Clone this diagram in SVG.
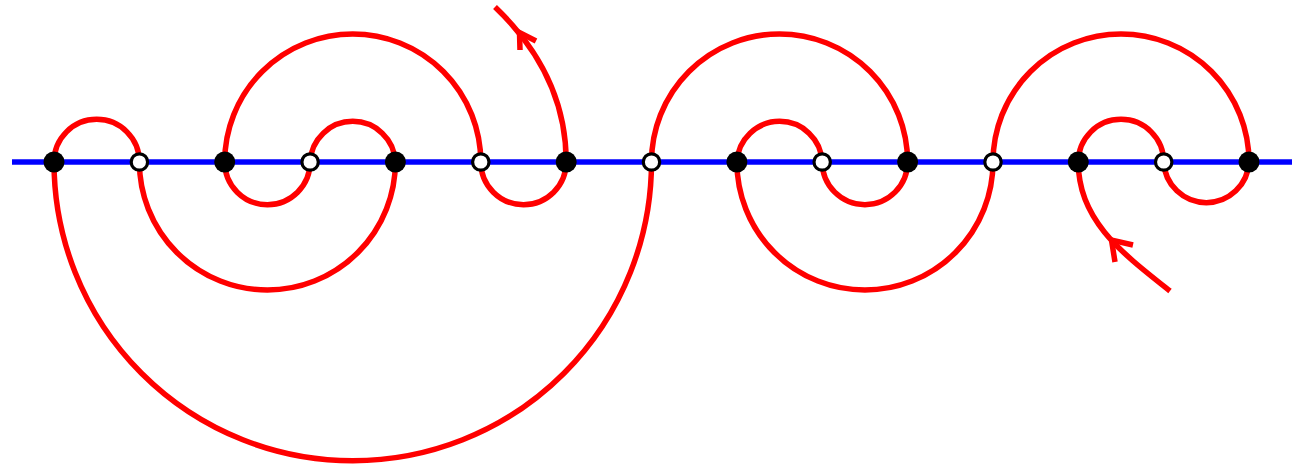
<svg xmlns="http://www.w3.org/2000/svg" width="1303" height="469" viewBox="0 0 1303 469">
<style>
.axis{stroke:#0000ff;stroke-width:5.5;fill:none}
.arc{stroke:#ff0000;stroke-width:5.5;fill:none}
.head{stroke:#ff0000;stroke-width:5.5;fill:none;stroke-linejoin:miter}
.full{fill:#000}
.open{fill:#fff;stroke:#000;stroke-width:3.2}
</style>
<rect width="1303" height="469" fill="#fff"/>
<g id="line"><path class="axis" d="M12,162 H1292"/></g>
<g id="connectors">
<path class="arc" d="M54,162 A42.7,42.7 0 0 1 139.4,162"/>
<path class="arc" d="M310.1,162 A42.7,42.7 0 0 1 395.4,162"/>
<path class="arc" d="M736.9,162 A42.7,42.7 0 0 1 822.2,162"/>
<path class="arc" d="M1078.3,162 A42.7,42.7 0 0 1 1163.7,162"/>
<path class="arc" d="M224.7,162 A128,128 0 0 1 480.8,162"/>
<path class="arc" d="M651.5,162 A128,128 0 0 1 907.6,162"/>
<path class="arc" d="M993,162 A128,128 0 0 1 1249,162"/>
<path class="arc" d="M224.7,162 A42.7,42.7 0 0 0 310.1,162"/>
<path class="arc" d="M480.8,162 A42.7,42.7 0 0 0 566.2,162"/>
<path class="arc" d="M822.2,162 A42.7,42.7 0 0 0 907.6,162"/>
<path class="arc" d="M1163.7,162 A42.7,42.7 0 0 0 1249,162"/>
<path class="arc" d="M139.4,162 A128,128 0 0 0 395.4,162"/>
<path class="arc" d="M736.9,162 A128,128 0 0 0 993,162"/>
<path class="arc" d="M54,162 A298.75,298.75 0 0 0 651.5,162"/>
<path class="arc" d="M566.2,162 C566.2,100 540,50 495,7"/>
<path class="arc" d="M1170,291 C1122,253 1078,220 1078.3,162"/>
<path class="head" d="M520,50 L519.5,32.5 L536,41"/>
<path class="head" d="M1115,262 L1111.5,240 L1133,245"/>
</g>
<g id="n0"><circle class="full" cx="54" cy="162" r="10.5"/></g>
<g id="n1"><circle class="open" cx="139.4" cy="162" r="8.2"/></g>
<g id="n2"><circle class="full" cx="224.7" cy="162" r="10.5"/></g>
<g id="n3"><circle class="open" cx="310.1" cy="162" r="8.2"/></g>
<g id="n4"><circle class="full" cx="395.4" cy="162" r="10.5"/></g>
<g id="n5"><circle class="open" cx="480.8" cy="162" r="8.2"/></g>
<g id="n6"><circle class="full" cx="566.2" cy="162" r="10.5"/></g>
<g id="n7"><circle class="open" cx="651.5" cy="162" r="8.2"/></g>
<g id="n8"><circle class="full" cx="736.9" cy="162" r="10.5"/></g>
<g id="n9"><circle class="open" cx="822.2" cy="162" r="8.2"/></g>
<g id="n10"><circle class="full" cx="907.6" cy="162" r="10.5"/></g>
<g id="n11"><circle class="open" cx="993" cy="162" r="8.2"/></g>
<g id="n12"><circle class="full" cx="1078.3" cy="162" r="10.5"/></g>
<g id="n13"><circle class="open" cx="1163.7" cy="162" r="8.2"/></g>
<g id="n14"><circle class="full" cx="1249" cy="162" r="10.5"/></g>
</svg>
